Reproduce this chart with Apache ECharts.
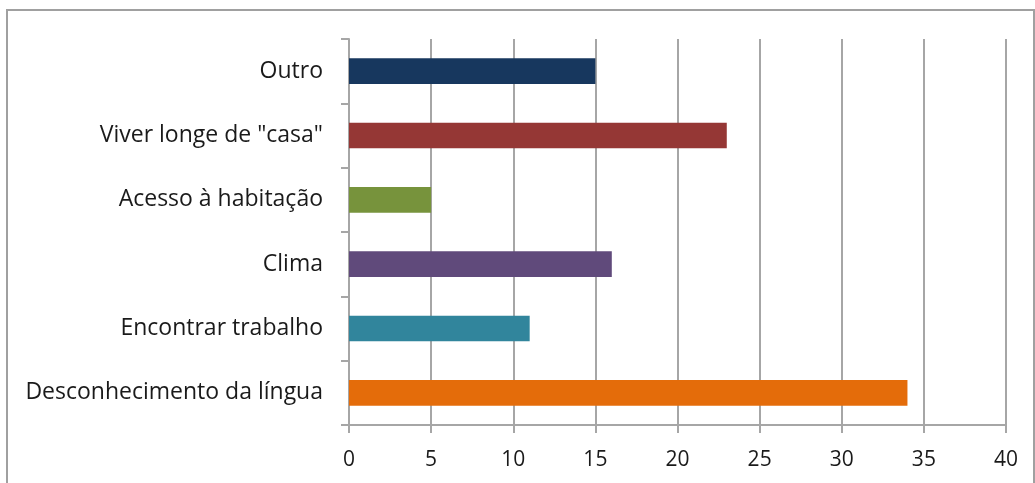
<!DOCTYPE html>
<html>
<head>
<meta charset="utf-8">
<script src="https://cdn.jsdelivr.net/npm/echarts@6/dist/echarts.min.js"></script>
<style>
html,body{margin:0;padding:0;background:#fff;}
#chart{width:1035px;height:483px;}
</style>
</head>
<body>
<div id="chart"></div>
<script>
const categories = ['Desconhecimento da língua', 'Encontrar trabalho', 'Clima', 'Acesso à habitação', 'Viver longe de "casa"', 'Outro'];
const values = [34, 11, 16, 5, 23, 15];
const barColors = ['#E46C0A', '#31859C', '#604A7B', '#77933C', '#953735', '#17375E'];
const xTicks = { min: 0, max: 40, interval: 5 };

const chart = echarts.init(document.getElementById('chart'));
const font = '"Open Sans", "Liberation Sans", sans-serif';
chart.setOption({
  animation: false,
  backgroundColor: '#fff',
  graphic: [{
    type: 'rect',
    shape: { x: 7, y: 10, width: 1027, height: 520 },
    style: { fill: 'none', stroke: '#A0A0A0', lineWidth: 2 },
    silent: true
  }],
  grid: { left: 349, right: 29, top: 39, bottom: 58, containLabel: false },
  xAxis: {
    type: 'value',
    min: xTicks.min, max: xTicks.max, interval: xTicks.interval,
    axisLine: { show: true, lineStyle: { color: '#A6A6A6', width: 2 } },
    axisTick: { show: true, length: 8, lineStyle: { color: '#A6A6A6', width: 2 } },
    splitLine: { show: true, lineStyle: { color: '#A6A6A6', width: 2 } },
    axisLabel: { color: '#1a1a1a', fontSize: 21, fontFamily: font, margin: 25 }
  },
  yAxis: {
    type: 'category',
    data: categories,
    axisLine: { show: true, lineStyle: { color: '#A6A6A6', width: 2 } },
    axisTick: { show: true, length: 8, alignWithLabel: false, lineStyle: { color: '#A6A6A6', width: 2 } },
    axisLabel: { color: '#1a1a1a', fontSize: 23, fontFamily: font, margin: 26 }
  },
  series: [{
    type: 'bar',
    barWidth: '40%',
    data: values.map((v, i) => ({ value: v, itemStyle: { color: barColors[i] } }))
  }]
});
</script>
</body>
</html>
